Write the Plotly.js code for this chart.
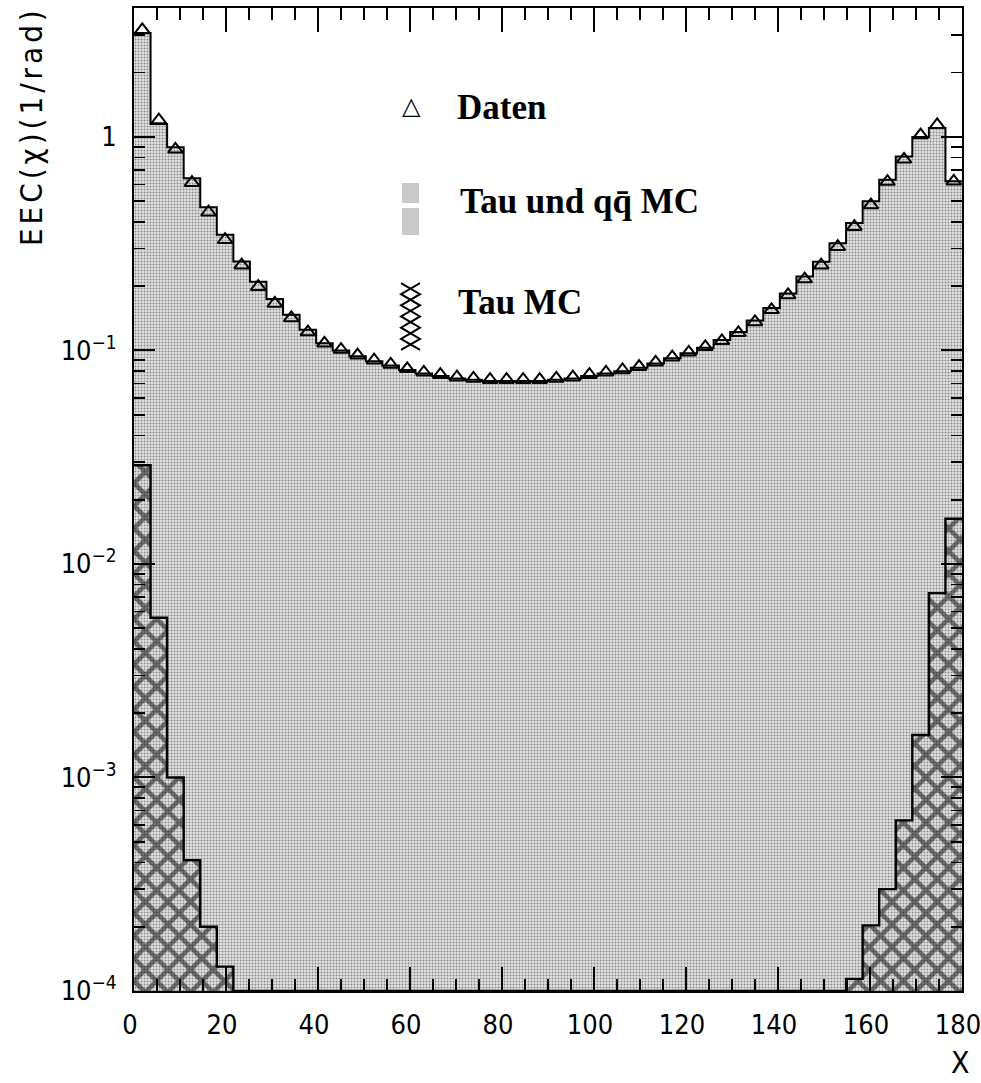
<!DOCTYPE html>
<html><head><meta charset="utf-8">
<script src="https://cdn.plot.ly/plotly-3.0.1.min.js"></script>
<style>html,body{margin:0;padding:0;background:#fff}#chart{width:981px;height:1083px}</style>
</head><body><div id="chart"></div>
<script>
// ---- data ----
const binCenters = [1.8,5.4,9,12.6,16.2,19.8,23.4,27,30.6,34.2,37.8,41.4,45,48.6,52.2,55.8,59.4,63,66.6,70.2,
  73.8,77.4,81,84.6,88.2,91.8,95.4,99,102.6,106.2,109.8,113.4,117,120.6,124.2,127.8,131.4,135,138.6,142.2,
  145.8,149.4,153,156.6,160.2,163.8,167.4,171,174.6,178.2];
const binWidth = 3.6;
const daten = [3.17,1.2,0.875,0.611,0.444,0.33,0.251,0.199,0.166,0.142,0.122,0.108,0.101,0.095,0.090,0.086,0.082,0.079,0.077,0.075,
  0.074,0.073,0.073,0.073,0.073,0.074,0.075,0.077,0.079,0.081,0.084,0.088,0.093,0.098,0.104,0.111,0.121,0.136,0.155,0.182,
  0.216,0.251,0.306,0.38,0.48,0.618,0.786,1.02,1.14,0.62];
const tauUndQQMC = [3.07,1.15,0.895,0.64,0.469,0.348,0.261,0.21,0.174,0.147,0.125,0.108,0.100,0.094,0.089,0.085,0.081,0.078,0.076,0.074,
  0.073,0.072,0.072,0.072,0.072,0.073,0.074,0.076,0.078,0.080,0.083,0.087,0.092,0.097,0.103,0.112,0.122,0.138,0.158,0.185,
  0.222,0.26,0.318,0.395,0.50,0.63,0.81,1.0,1.10,0.62];
const tauMC = [0.029,0.0056,0.0010,0.00041,0.00020,0.00013,0,0,0,0,0,0,0,0,0,0,0,0,0,0,
  0,0,0,0,0,0,0,0,0,0,0,0,0,0,0,0,0,0,0,0,
  0,0,0,0.000114,0.000203,0.00030,0.00063,0.00158,0.0073,0.0163];
const xRange = [0,180];
const yRange = [-4, 0.604];   // log10 limits
const yDecades = [-4,-3,-2,-1,0];
const yTickText = ['10<sup>\u22124</sup>','10<sup>\u22123</sup>','10<sup>\u22122</sup>','10<sup>\u22121</sup>','1'];
const legendLabels = ['Daten','Tau und qq\u0304 MC','Tau MC'];
const yTitle = 'EEC(χ)(1/rad)';
const xTitle = 'X';

// ---- helpers ----
const floorVal = Math.pow(10, yRange[0]);
function stepLine(vals){
  const xs=[], ys=[];
  vals.forEach((v,i)=>{ xs.push(binCenters[i]-binWidth/2); ys.push(v>0?v:floorVal); });
  xs.push(binCenters[binCenters.length-1]+binWidth/2); ys.push(vals[vals.length-1]>0?vals[vals.length-1]:floorVal);
  return {xs, ys};
}
const W=981,H=1083, M={l:134,r:19,t:8,b:92};
const pw=W-M.l-M.r, ph=H-M.t-M.b;
const px=x=>(x-M.l)/pw, py=y=>(H-M.b-y)/ph;

const majorY = yDecades.map(d=>Math.pow(10,d));
const minorY = [];
yDecades.forEach(d=>{ for(let k=2;k<=9;k++){ const v=k*Math.pow(10,d); if(Math.log10(v)<=yRange[1]) minorY.push(v);} });

const mcStep=stepLine(tauUndQQMC), tauStep=stepLine(tauMC);

const traces=[
 {type:'bar', x:binCenters, y:tauUndQQMC, width:binWidth, name:legendLabels[1],
  marker:{color:'#d6d6d6', line:{width:0}, pattern:{shape:'.', size:3, solidity:0.35, fgcolor:'#8a8a8a', bgcolor:'#e3e3e3'}},
  hoverinfo:'skip', showlegend:false},
 {type:'bar', x:binCenters, y:tauMC, width:binWidth, name:legendLabels[2],
  marker:{color:'rgba(0,0,0,0)', line:{width:0}, pattern:{shape:'x', size:16, solidity:0.5, fgcolor:'#000', fillmode:'overlay'}},
  hoverinfo:'skip', showlegend:false},
 {type:'scatter', mode:'lines', x:mcStep.xs, y:mcStep.ys, line:{shape:'hv', color:'#000', width:2}, hoverinfo:'skip', showlegend:false},
 {type:'scatter', mode:'lines', x:tauStep.xs, y:tauStep.ys, line:{shape:'hv', color:'#000', width:2.4}, hoverinfo:'skip', showlegend:false},
 {type:'scatter', mode:'markers', x:binCenters, y:daten, name:legendLabels[0],
  marker:{symbol:'triangle-up-open', size:13, color:'#000', line:{width:2, color:'#000'}}, showlegend:false, cliponaxis:false}
];

const tickFont={family:'"Liberation Sans Narrow","DejaVu Sans Condensed","Liberation Sans",sans-serif', size:27, color:'#000'};

function zig(x0,x1,y0,y1,n,flip){
  let d='', h=(y1-y0)/(2*n);
  for(let k=0;k<=2*n;k++){
    const xx = ((k%2===0)!==flip)?x0:x1;
    d += (k===0?'M':'L') + px(xx).toFixed(4)+','+py(y0+k*h).toFixed(4)+' ';
  }
  return d;
}
const serif='"Liberation Serif","Times New Roman",serif';

const layout={
  width:W, height:H, margin:M, paper_bgcolor:'#fff', plot_bgcolor:'#fff',
  barmode:'overlay', bargap:0, showlegend:false,
  xaxis:{range:xRange, dtick:20, tick0:0, ticks:'inside', ticklen:24, tickwidth:2, tickcolor:'#000',
    showline:true, linewidth:2, linecolor:'#000', mirror:'allticks', showgrid:false, zeroline:false,
    tickfont:tickFont, ticklabelstandoff:9, ticklabelshift:-4, ticklabeloverflow:'allow',
    minor:{dtick:5, ticks:'inside', ticklen:12, tickwidth:1.6, tickcolor:'#000', showgrid:false}},
  yaxis:{type:'log', range:yRange, tickmode:'array', tickvals:majorY, ticktext:yTickText,
    ticks:'inside', ticklen:21, tickwidth:2, tickcolor:'#000',
    showline:true, linewidth:2, linecolor:'#000', mirror:'allticks', showgrid:false, zeroline:false,
    tickfont:tickFont, ticklabelstandoff:10, ticklabeloverflow:'allow',
    minor:{tickmode:'array', tickvals:minorY, ticks:'inside', ticklen:11, tickwidth:1.6, tickcolor:'#000', showgrid:false}},
  annotations:[
    {xref:'paper', yref:'paper', x:px(31), y:py(126), text:'<span style="letter-spacing:4px">'+yTitle+'</span>', textangle:-90, showarrow:false,
      font:{family:'"Liberation Sans Narrow","DejaVu Sans Condensed",sans-serif', size:31, color:'#000'}, xanchor:'center', yanchor:'middle'},
    {xref:'paper', yref:'paper', x:px(960), y:py(1062), text:xTitle, showarrow:false,
      font:{family:tickFont.family, size:30, color:'#000'}, xanchor:'center', yanchor:'middle'},
    {xref:'paper', yref:'paper', x:px(411), y:py(106), text:'△', showarrow:false,
      font:{family:'DejaVu Sans', size:24, color:'#000'}, xanchor:'center', yanchor:'middle'},
    {xref:'paper', yref:'paper', x:px(455), y:py(107), text:'<b>'+legendLabels[0]+'</b>', showarrow:false,
      font:{family:serif, size:35, color:'#000'}, xanchor:'left', yanchor:'middle'},
    {xref:'paper', yref:'paper', x:px(458), y:py(202), text:'<b>'+legendLabels[1]+'</b>', showarrow:false,
      font:{family:serif, size:35, color:'#000'}, xanchor:'left', yanchor:'middle'},
    {xref:'paper', yref:'paper', x:px(456), y:py(302), text:'<b>'+legendLabels[2]+'</b>', showarrow:false,
      font:{family:serif, size:35, color:'#000'}, xanchor:'left', yanchor:'middle'}
  ],
  shapes:[
    {type:'rect', xref:'paper', yref:'paper', x0:px(402), x1:px(419), y0:py(183), y1:py(203), fillcolor:'#c9c9c9', line:{width:0}},
    {type:'rect', xref:'paper', yref:'paper', x0:px(402), x1:px(419), y0:py(208), y1:py(235), fillcolor:'#c9c9c9', line:{width:0}},
    {type:'path', xref:'paper', yref:'paper', path:zig(401,420,283,350,3,false), line:{color:'#000', width:2}},
    {type:'path', xref:'paper', yref:'paper', path:zig(401,420,283,350,3,true), line:{color:'#000', width:2}}
  ]
};
Plotly.newPlot('chart', traces, layout, {staticPlot:true});
</script></body></html>
